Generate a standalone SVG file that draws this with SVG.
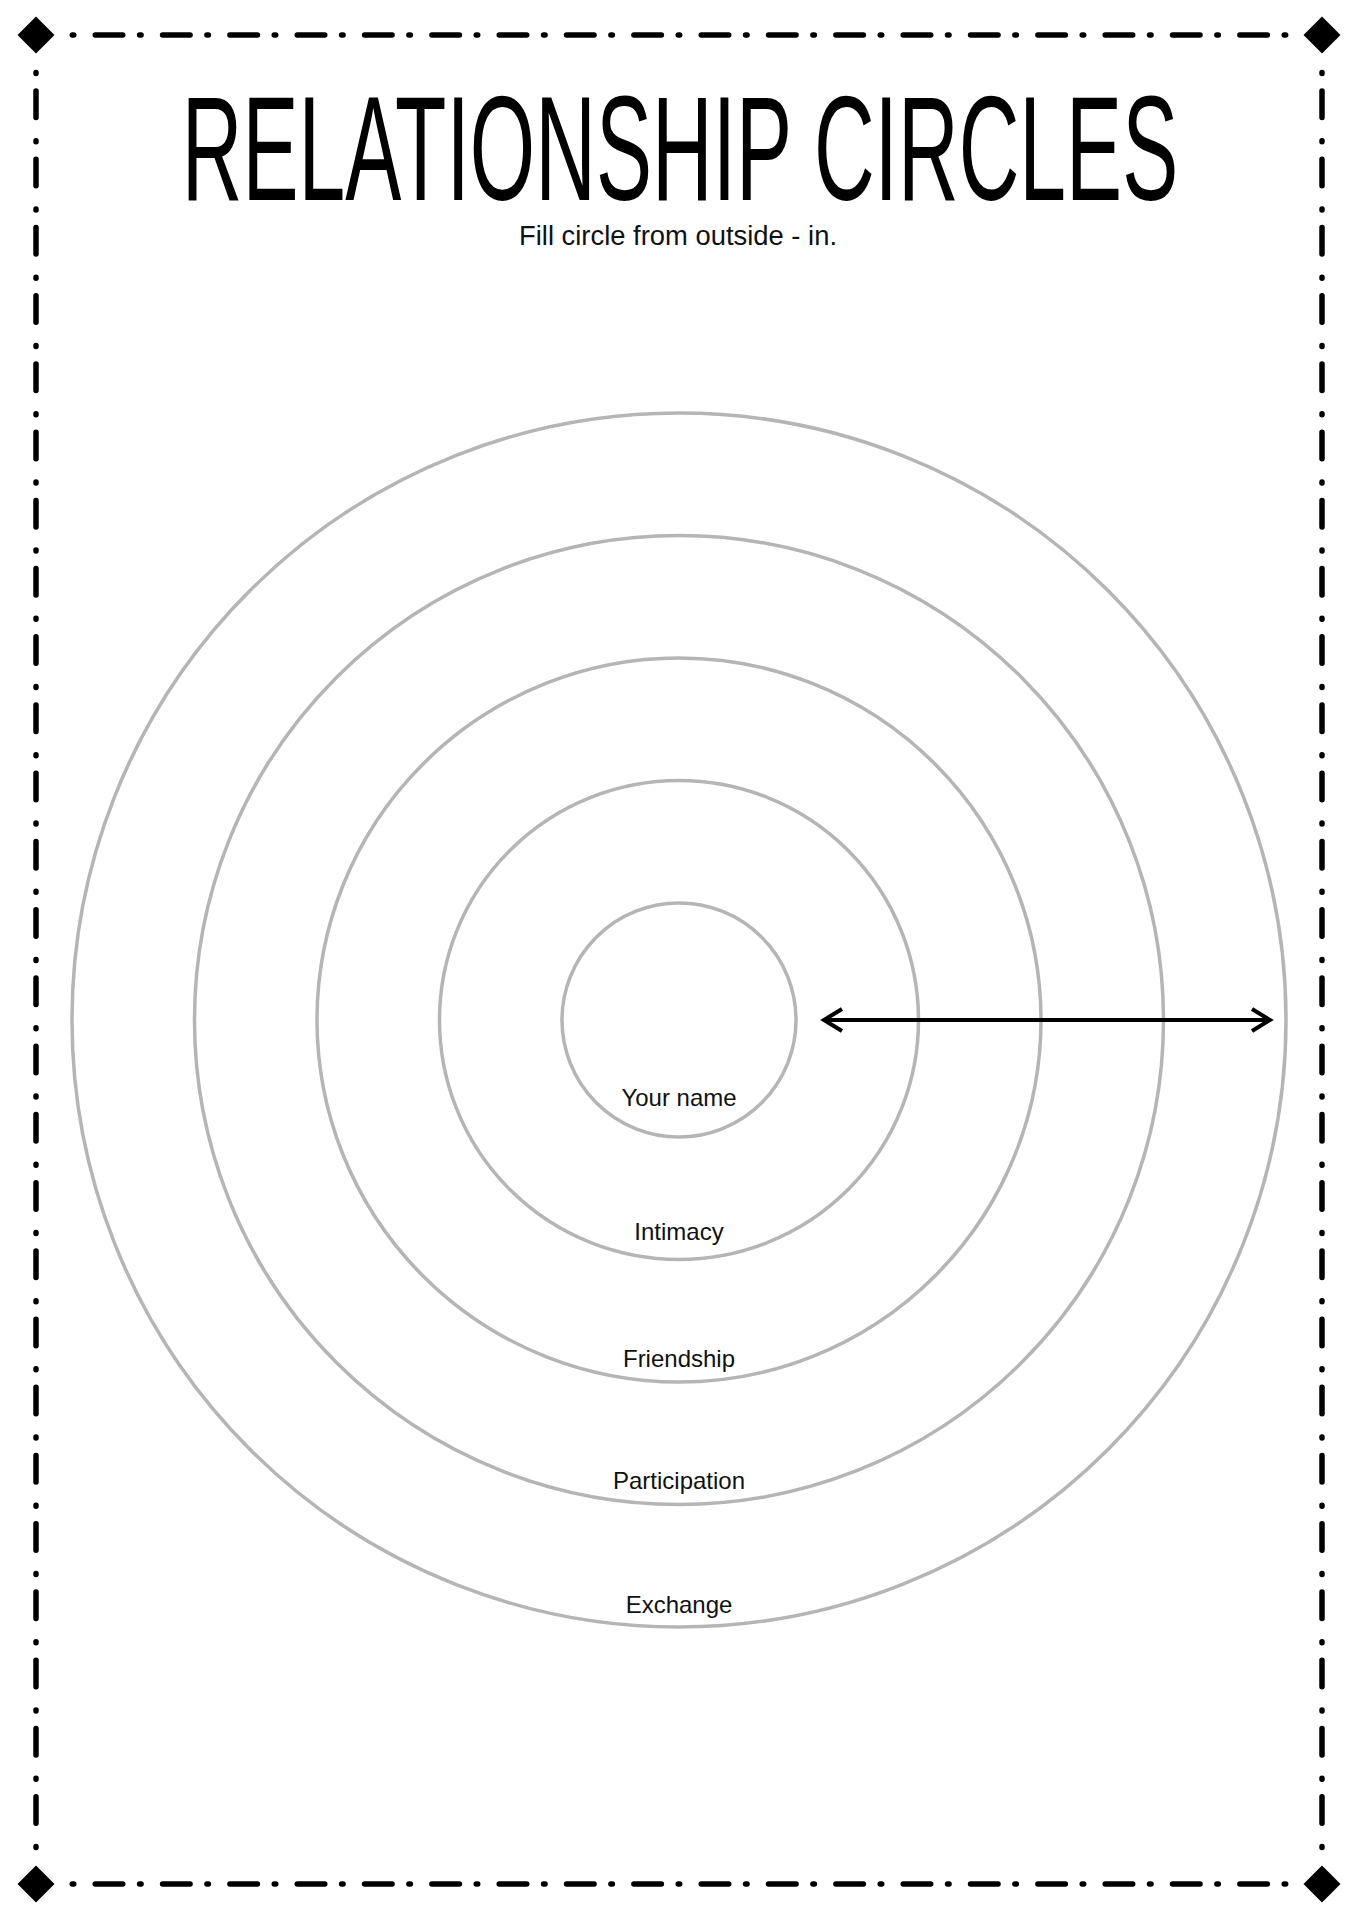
<svg xmlns="http://www.w3.org/2000/svg" width="1358" height="1920" viewBox="0 0 1358 1920">
  <style>
    .ring { fill: none; stroke: #b5b5b5; stroke-width: 3.5; }
    .lbl { font-family: "Liberation Sans", Arial, sans-serif; font-size: 24px; fill: #111; text-anchor: middle; }
    .bh { fill: none; stroke: #000; stroke-width: 5.5; stroke-linecap: round; stroke-dasharray: 1.5 21.5 27.5 16.83; }
    .bv { fill: none; stroke: #000; stroke-width: 5.5; stroke-linecap: round; stroke-dasharray: 1 17.5 26.5 23.23; }
    .dia { fill: #000; }
  </style>
  <defs>
    <marker id="chev" markerUnits="userSpaceOnUse" markerWidth="40" markerHeight="40" viewBox="-25 -20 40 40" refX="0" refY="0" orient="auto-start-reverse">
      <path d="M -18 -11 L 0 0 L -18 11" fill="none" stroke="#000" stroke-width="4" stroke-linejoin="miter"/>
    </marker>
  </defs>
  <rect width="1358" height="1920" fill="#fff"/>

  <g id="border">
    <line class="bh" x1="72.25" y1="35" x2="1286" y2="35"/>
    <line class="bh" x1="72.25" y1="1884" x2="1286" y2="1884"/>
    <line class="bv" x1="36" y1="72.5" x2="36" y2="1848"/>
    <line class="bv" x1="1322" y1="72.5" x2="1322" y2="1848"/>
    <path class="dia" d="M36 16.5 L54.5 35 L36 53.5 L17.5 35 Z"/>
    <path class="dia" d="M1322 16.5 L1340.5 35 L1322 53.5 L1303.5 35 Z"/>
    <path class="dia" d="M36 1865.5 L54.5 1884 L36 1902.5 L17.5 1884 Z"/>
    <path class="dia" d="M1322 1865.5 L1340.5 1884 L1322 1902.5 L1303.5 1884 Z"/>
  </g>

  <g id="title">
    <text transform="translate(680,200) scale(0.568,1)" x="0" y="0" text-anchor="middle" font-family="Liberation Sans, Arial, sans-serif" font-size="148" fill="#000">RELATIONSHIP CIRCLES</text>
    <text x="519" y="245" font-family="Liberation Sans, Arial, sans-serif" font-size="27" fill="#111" textLength="318" lengthAdjust="spacingAndGlyphs">Fill circle from outside - in.</text>
  </g>

  <g id="ring-exchange">
    <circle class="ring" cx="679" cy="1020" r="607"/>
    <text class="lbl" x="679" y="1613">Exchange</text>
  </g>
  <g id="ring-participation">
    <circle class="ring" cx="679" cy="1020" r="484.5"/>
    <text class="lbl" x="679" y="1489">Participation</text>
  </g>
  <g id="ring-friendship">
    <circle class="ring" cx="679" cy="1020" r="362"/>
    <text class="lbl" x="679" y="1367">Friendship</text>
  </g>
  <g id="ring-intimacy">
    <circle class="ring" cx="679" cy="1020" r="239.5"/>
    <text class="lbl" x="679" y="1240">Intimacy</text>
  </g>
  <g id="ring-your-name">
    <circle class="ring" cx="679" cy="1020" r="117"/>
    <text class="lbl" x="679" y="1106">Your name</text>
  </g>

  <g id="connectors">
    <line x1="824" y1="1020" x2="1270" y2="1020" stroke="#000" stroke-width="4" marker-start="url(#chev)" marker-end="url(#chev)"/>
  </g>
</svg>
